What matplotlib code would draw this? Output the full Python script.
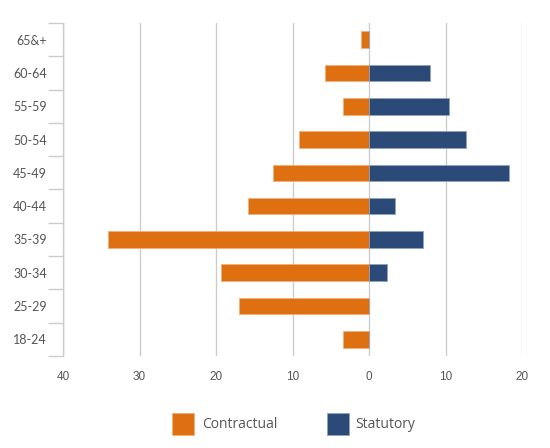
import matplotlib
matplotlib.use("Agg")
import matplotlib.pyplot as plt
from matplotlib.patches import Rectangle
from matplotlib.ticker import FixedLocator, FuncFormatter

plt.rcParams['font.family'] = ['Open Sans', 'DejaVu Sans']

age_groups = ["18-24", "25-29", "30-34", "35-39", "40-44", "45-49", "50-54", "55-59", "60-64", "65&+"]
contractual = [3.4, 17.0, 19.4, 34.1, 15.8, 12.5, 9.1, 3.4, 5.7, 1.0]
statutory = [0.0, 0.0, 2.35, 7.0, 3.4, 18.3, 12.7, 10.4, 8.0, 0.0]
x_ticks = [-40, -30, -20, -10, 0, 10, 20]
series_names = ["Contractual", "Statutory"]

orange = "#DF7012"
navy = "#2B4A78"
grid_c = "#CCCCCC"
text_c = "#555555"

fig = plt.figure(figsize=(5.5, 4.48), dpi=100)
ax = fig.add_axes([63/550, (448-356)/448, (522-63)/550, (356-23)/448])

y = list(range(len(age_groups)))
ax.barh(y, [-v for v in contractual], height=0.5, color=orange, edgecolor="#F2B07A", linewidth=0.6, zorder=3)
ax.barh(y, statutory, height=0.5, color=navy, edgecolor="#8FA3C0", linewidth=0.6, zorder=3)

ax.set_xlim(-40, 20)
ax.set_ylim(-0.5, len(age_groups) - 0.5)

ax.xaxis.set_major_locator(FixedLocator(x_ticks))
ax.xaxis.set_major_formatter(FuncFormatter(lambda v, p: f"{abs(int(v))}"))
ax.grid(axis='x', color=grid_c, linewidth=1, zorder=0)
ax.tick_params(axis='x', length=0, pad=11, labelsize=8.5, labelcolor=text_c)
for lab in ax.get_xticklabels():
    lab.set_family(['Liberation Sans', 'DejaVu Sans'])

ax.set_yticks(y)
ax.set_yticklabels(age_groups)
ax.yaxis.set_minor_locator(FixedLocator([i - 0.5 for i in range(len(age_groups) + 1)]))
ax.tick_params(axis='y', which='major', length=0, pad=11.5, labelsize=9, labelcolor=text_c)
ax.tick_params(axis='y', which='minor', length=10.8, width=1, color=grid_c)
for lab in ax.get_yticklabels():
    lab.set_family(['Lato', 'DejaVu Sans'])

for s in ['top', 'right', 'bottom']:
    ax.spines[s].set_visible(False)
ax.spines['left'].set_color(grid_c)
ax.spines['left'].set_linewidth(1)

# legend
W, H = 550, 448
def box(x0, color, ec, label, tx):
    fig.add_artist(Rectangle((x0/W, (H-435)/H), 22/W, 22/H, transform=fig.transFigure,
                             facecolor=color, edgecolor=ec, linewidth=0.6))
    fig.text(tx/W, (H-424)/H, label, ha='left', va='center', fontsize=10, color=text_c)

box(172, orange, "#F2B07A", series_names[0], 202)
box(327, navy, "#8FA3C0", series_names[1], 355)

fig.savefig("out.png", dpi=100, facecolor="white")
